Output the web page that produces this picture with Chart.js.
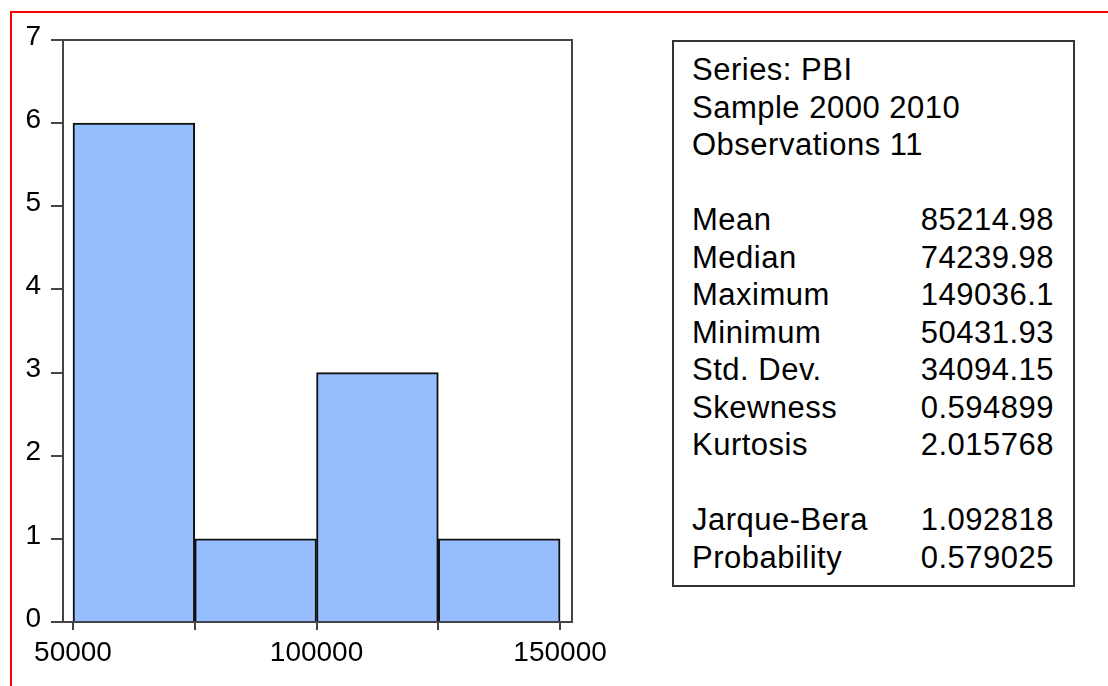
<!DOCTYPE html>
<html>
<head>
<meta charset="utf-8">
<title>PBI histogram</title>
<script src="https://cdn.jsdelivr.net/npm/chart.js@4"></script>
<style>
    html, body {
        margin: 0;
        padding: 0;
        background: #fff;
        overflow: hidden;
        width: 1108px;
        height: 686px;
    }
    #frame {
        position: absolute;
        left: 10px;
        top: 11px;
        width: 1200px;
        height: 800px;
        border-left: 2px solid #f00;
        border-top: 2px solid #f00;
    }
    #chart {
        position: absolute;
        left: 0;
        top: 0;
    }
    #stats {
        position: absolute;
        left: 672px;
        top: 40px;
        width: 399px;
        height: 543px;
        border: 2px solid #333;
        box-sizing: content-box;
        font-family: "Liberation Sans", Arial, sans-serif;
        font-size: 31px;
        letter-spacing: 0.5px;
        color: #000;
        padding: 0;
    }
    #stats .rows {
        position: absolute;
        left: 18px;
        right: 19px;
        top: 9px;
    }
    #stats .row {
        height: 37.5px;
        line-height: 37.5px;
        white-space: nowrap;
    }
    #stats .row span.v {
        float: right;
    }
</style>
</head>
<body>
<div id="frame"></div>
<canvas id="chart" width="660" height="686"></canvas>
<div id="stats"><div class="rows"></div></div>
<script>
// histogram bins (PBI)
var binEdges = [50000, 75000, 100000, 125000, 150000];
var binCounts = [6, 1, 3, 1];
var xTickValues = [50000, 75000, 100000, 125000, 150000];
var xTickLabels = ['50000', '', '100000', '', '150000'];
var yTickValues = [0, 1, 2, 3, 4, 5, 6, 7];

// descriptive statistics box
var headerLines = ['Series: PBI', 'Sample 2000 2010', 'Observations 11'];
var statNames = ['Mean', 'Median', 'Maximum', 'Minimum', 'Std. Dev.', 'Skewness', 'Kurtosis'];
var statValues = ['85214.98', '74239.98', '149036.1', '50431.93', '34094.15', '0.594899', '2.015768'];
var testNames = ['Jarque-Bera', 'Probability'];
var testValues = ['1.092818', '0.579025'];

(function () {
    var rows = document.querySelector('#stats .rows');
    function addRow(name, value) {
        var div = document.createElement('div');
        div.className = 'row';
        var n = document.createElement('span');
        n.textContent = name;
        div.appendChild(n);
        if (value !== undefined) {
            var v = document.createElement('span');
            v.className = 'v';
            v.textContent = value;
            div.appendChild(v);
        }
        if (name === '') div.innerHTML = '&nbsp;';
        rows.appendChild(div);
    }
    headerLines.forEach(function (l) { addRow(l); });
    addRow('');
    statNames.forEach(function (n, i) { addRow(n, statValues[i]); });
    addRow('');
    testNames.forEach(function (n, i) { addRow(n, testValues[i]); });

    var points = [];
    for (var i = 0; i < binCounts.length; i++) {
        points.push({x: (binEdges[i] + binEdges[i + 1]) / 2, y: binCounts[i]});
    }

    var axisColor = '#444';
    var tickFont = {family: '"Liberation Sans", Arial, sans-serif', size: 28};

    // draws the top and right sides of the plot box
    var boxPlugin = {
        id: 'box',
        afterDraw: function (chart) {
            var a = chart.chartArea;
            var ctx = chart.ctx;
            ctx.save();
            ctx.strokeStyle = axisColor;
            ctx.lineWidth = 2;
            ctx.beginPath();
            ctx.moveTo(a.left, a.top);
            ctx.lineTo(a.right, a.top);
            ctx.lineTo(a.right, a.bottom);
            ctx.stroke();
            ctx.restore();
        }
    };

    new Chart(document.getElementById('chart').getContext('2d'), {
        type: 'bar',
        data: {
            datasets: [{
                data: points,
                backgroundColor: '#96beff',
                borderColor: '#111',
                borderWidth: 2,
                barPercentage: 1,
                categoryPercentage: 1
            }]
        },
        options: {
            responsive: false,
            animation: false,
            layout: {padding: {top: 40, left: 0, right: 88, bottom: 0}},
            plugins: {
                legend: {display: false},
                tooltip: {enabled: false}
            },
            scales: {
                x: {
                    type: 'linear',
                    offset: false,
                    min: 47950,
                    max: 152450,
                    afterBuildTicks: function (scale) {
                        scale.ticks = xTickValues.map(function (v) { return {value: v}; });
                    },
                    afterFit: function (scale) { scale.height = 64; },
                    grid: {
                        offset: false,
                        drawOnChartArea: false,
                        drawTicks: true,
                        tickLength: 8,
                        color: axisColor,
                        lineWidth: 2
                    },
                    border: {color: axisColor, width: 2},
                    ticks: {
                        color: '#000',
                        font: tickFont,
                        padding: 6,
                        maxRotation: 0,
                        autoSkip: false,
                        callback: function (value) {
                            return xTickLabels[xTickValues.indexOf(value)];
                        }
                    }
                },
                y: {
                    min: 0,
                    max: 7,
                    afterBuildTicks: function (scale) {
                        scale.ticks = yTickValues.map(function (v) { return {value: v}; });
                    },
                    afterFit: function (scale) { scale.width = 63; },
                    grid: {
                        drawOnChartArea: false,
                        drawTicks: true,
                        tickLength: 12,
                        color: axisColor,
                        lineWidth: 2
                    },
                    border: {color: axisColor, width: 2},
                    ticks: {
                        color: '#000',
                        font: tickFont,
                        padding: 10,
                        labelOffset: -3,
                        autoSkip: false
                    }
                }
            }
        },
        plugins: [boxPlugin]
    });
})();
</script>
</body>
</html>
